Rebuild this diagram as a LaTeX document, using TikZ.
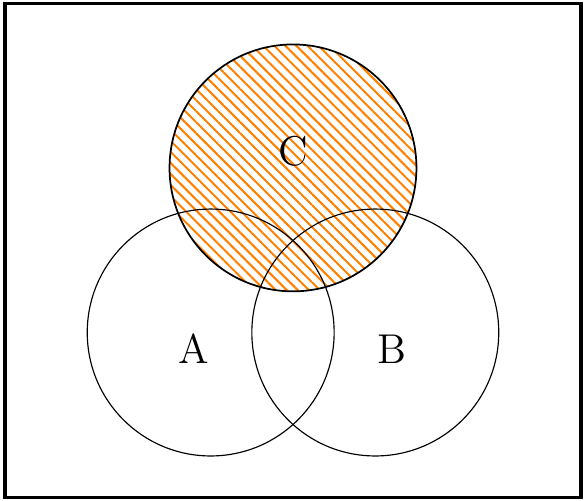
\documentclass[tikz,border=0pt]{standalone}
\usetikzlibrary{patterns.meta}
\begin{document}
\begin{tikzpicture}
\tikzset{
  setcircle/.style={draw, thin},
  hatched/.style={draw, semithick, pattern={Lines[angle=-45, distance=2.7pt, line width=0.7pt]}, pattern color=orange},
  setlabel/.style={font=\Large}
}
\useasboundingbox (-2.56,-2.04) rectangle (4.56,4.04);
\draw[line width=1.1pt] (-2.5,-2) rectangle (4.5,4);
\path[hatched] (1,2) circle (1.5);
\draw[setcircle] (0,0) circle (1.5);
\draw[setcircle] (2,0) circle (1.5);
\node[setlabel] (A) at (-0.2,-0.2) {A};
\node[setlabel] (B) at (2.2,-0.2) {B};
\node[setlabel] (C) at (1,2.2) {C};
\end{tikzpicture}
\end{document}
